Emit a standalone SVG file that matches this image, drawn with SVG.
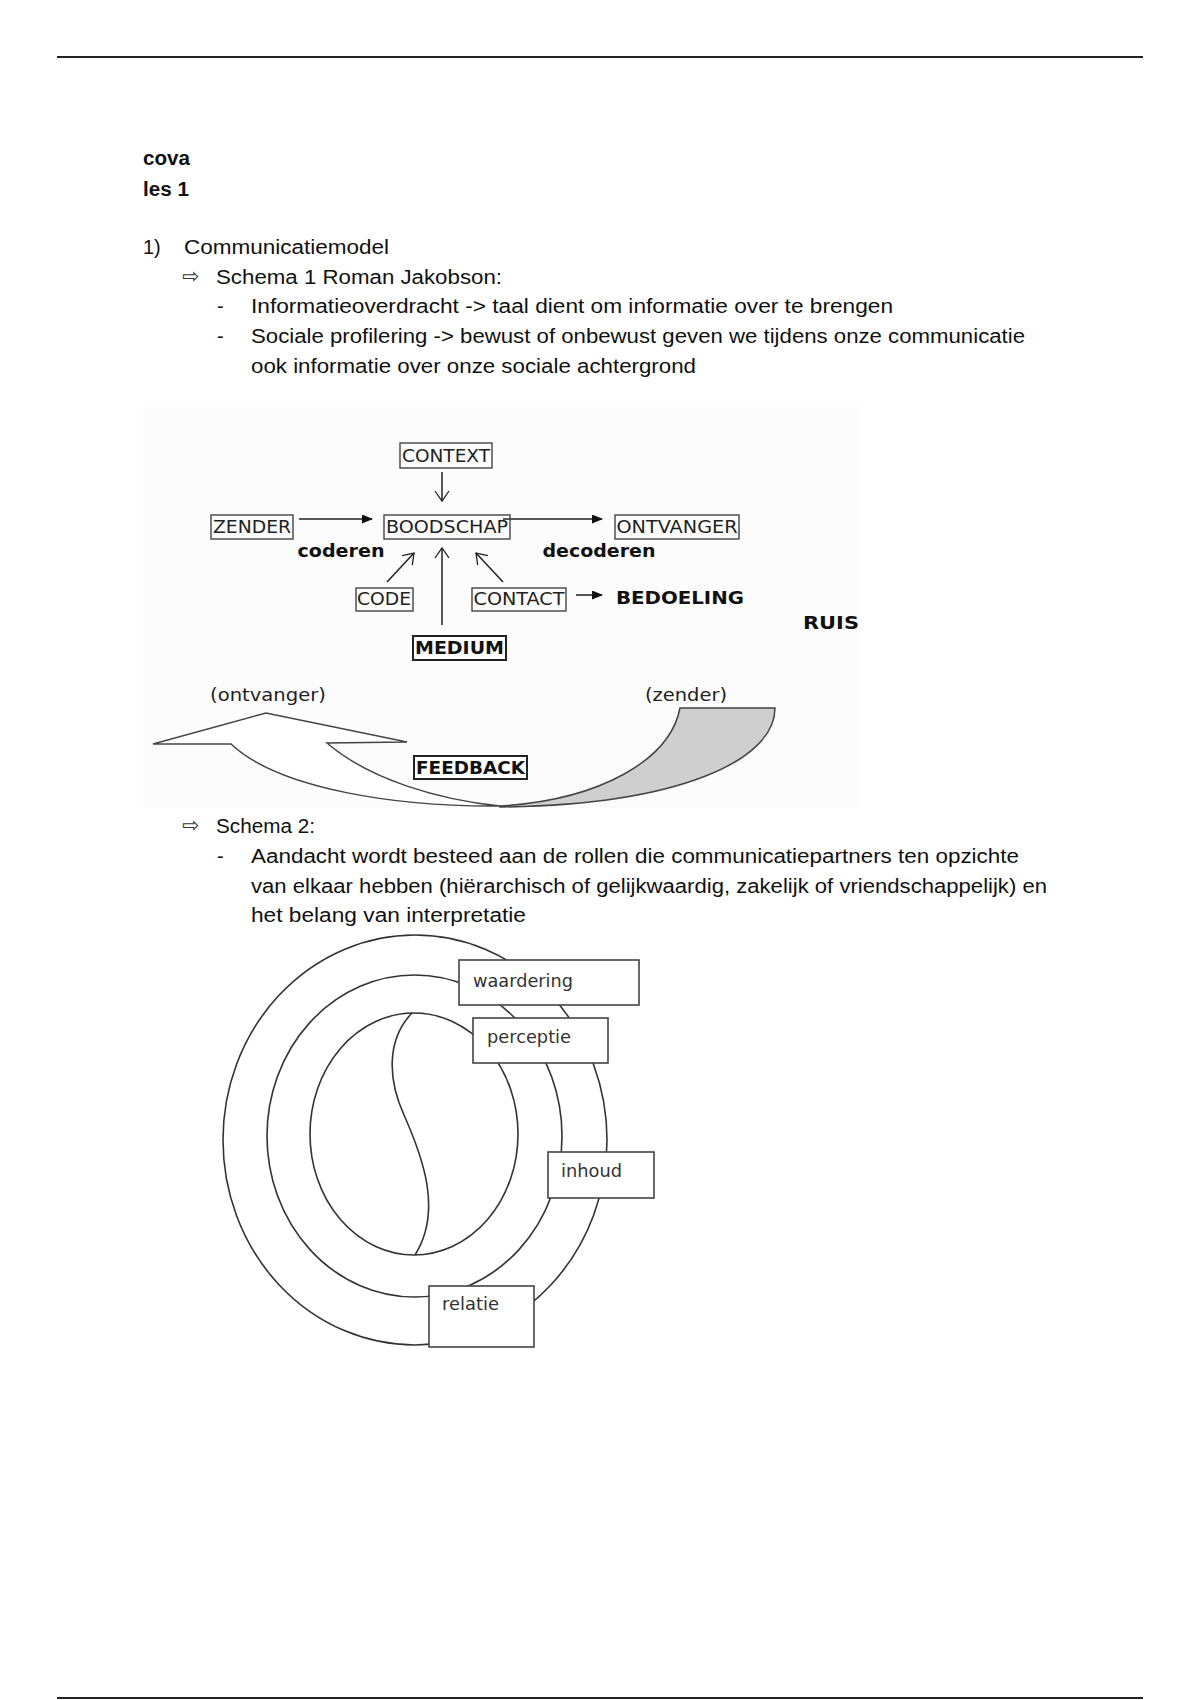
<svg xmlns="http://www.w3.org/2000/svg" width="1200" height="1700" viewBox="0 0 1200 1700">
<defs>
<marker id="fill" markerUnits="userSpaceOnUse" markerWidth="11" markerHeight="9" refX="10" refY="4.5" orient="auto"><path d="M0,0 L11,4.5 L0,9 z" fill="#111"/></marker>
<marker id="open" markerUnits="userSpaceOnUse" markerWidth="14" markerHeight="16" refX="11" refY="8" orient="auto"><path d="M1,1 L11,8 L1,15" fill="none" stroke="#222" stroke-width="1.3"/></marker>
<style>
.doc{font-family:"Liberation Sans",Arial,sans-serif;font-size:20px;fill:#111}
.b{font-weight:bold}
.sym{font-family:"DejaVu Sans",sans-serif;font-size:20px;fill:#333}
.box{fill:none;stroke:#444;stroke-width:1.4}
.bt{font-family:"DejaVu Sans",sans-serif;font-size:17px;fill:#222;text-anchor:middle}
.bb{font-family:"DejaVu Sans",sans-serif;font-size:17px;font-weight:bold;fill:#111;text-anchor:middle}
.ln{stroke:#222;stroke-width:1.5;fill:none}
.circ{fill:none;stroke:#333;stroke-width:1.6}
.lb{fill:#fff;stroke:#444;stroke-width:1.6}
.lt{font-family:"DejaVu Sans",sans-serif;font-size:17px;fill:#333}
</style>
</defs>
<rect width="1200" height="1700" fill="#fff"/>
<line x1="57" y1="57" x2="1143" y2="57" stroke="#222" stroke-width="2"/>
<line x1="57" y1="1698" x2="1143" y2="1698" stroke="#222" stroke-width="2"/>

<g id="text">
<text class="doc b" x="143" y="165" textLength="47" lengthAdjust="spacingAndGlyphs">cova</text>
<text class="doc b" x="143" y="196" textLength="46" lengthAdjust="spacingAndGlyphs">les 1</text>
<text class="doc" x="143" y="254">1)</text>
<text class="doc" x="184" y="254" textLength="205" lengthAdjust="spacingAndGlyphs">Communicatiemodel</text>
<text class="sym" x="182" y="283" textLength="17" lengthAdjust="spacingAndGlyphs">⇨</text>
<text class="doc" x="216" y="284" textLength="286" lengthAdjust="spacingAndGlyphs">Schema 1 Roman Jakobson:</text>
<text class="doc" x="217" y="313">-</text>
<text class="doc" x="251" y="313" textLength="642" lengthAdjust="spacingAndGlyphs">Informatieoverdracht -&gt; taal dient om informatie over te brengen</text>
<text class="doc" x="217" y="343">-</text>
<text class="doc" x="251" y="343" textLength="774" lengthAdjust="spacingAndGlyphs">Sociale profilering -&gt; bewust of onbewust geven we tijdens onze communicatie</text>
<text class="doc" x="251" y="373" textLength="445" lengthAdjust="spacingAndGlyphs">ook informatie over onze sociale achtergrond</text>
<text class="sym" x="182" y="832" textLength="17" lengthAdjust="spacingAndGlyphs">⇨</text>
<text class="doc" x="216" y="833" textLength="99" lengthAdjust="spacingAndGlyphs">Schema 2:</text>
<text class="doc" x="217" y="863">-</text>
<text class="doc" x="251" y="863" textLength="768" lengthAdjust="spacingAndGlyphs">Aandacht wordt besteed aan de rollen die communicatiepartners ten opzichte</text>
<text class="doc" x="251" y="893" textLength="796" lengthAdjust="spacingAndGlyphs">van elkaar hebben (hiërarchisch of gelijkwaardig, zakelijk of vriendschappelijk) en</text>
<text class="doc" x="251" y="922" textLength="275" lengthAdjust="spacingAndGlyphs">het belang van interpretatie</text>
</g>

<rect x="143" y="406" width="719" height="402" fill="#fcfcfc"/>

<g id="connectors">
<line class="ln" x1="442" y1="472" x2="442" y2="501" marker-end="url(#open)"/>
<line class="ln" x1="299" y1="519" x2="372" y2="519" marker-end="url(#fill)"/>
<line class="ln" x1="503" y1="519" x2="602" y2="519" marker-end="url(#fill)"/>
<line class="ln" x1="387" y1="582" x2="414" y2="553" marker-end="url(#open)"/>
<line class="ln" x1="442" y1="625" x2="442" y2="548" marker-end="url(#open)"/>
<line class="ln" x1="503" y1="582" x2="476" y2="553" marker-end="url(#open)"/>
<line class="ln" x1="576" y1="595" x2="602" y2="595" marker-end="url(#fill)"/>
</g>

<g id="context"><rect class="box" x="400" y="443" width="92" height="25"/><text class="bt" x="446" y="462" textLength="88" lengthAdjust="spacingAndGlyphs">CONTEXT</text></g>
<g id="zender"><rect class="box" x="211" y="515" width="82" height="24"/><text class="bt" x="252" y="533" textLength="78" lengthAdjust="spacingAndGlyphs">ZENDER</text></g>
<g id="boodschap"><rect class="box" x="384" y="515" width="126" height="24"/><text class="bt" x="447" y="533" textLength="122" lengthAdjust="spacingAndGlyphs">BOODSCHAP</text></g>
<g id="ontvanger"><rect class="box" x="615" y="515" width="124" height="24"/><text class="bt" x="677" y="533" textLength="121" lengthAdjust="spacingAndGlyphs">ONTVANGER</text></g>
<g id="coderen"><text class="bb" x="341" y="557" textLength="87" lengthAdjust="spacingAndGlyphs">coderen</text></g>
<g id="decoderen"><text class="bb" x="599" y="557" textLength="113" lengthAdjust="spacingAndGlyphs">decoderen</text></g>
<g id="code"><rect class="box" x="356" y="588" width="57" height="23"/><text class="bt" x="384" y="605" textLength="54" lengthAdjust="spacingAndGlyphs">CODE</text></g>
<g id="contact"><rect class="box" x="472" y="588" width="94" height="23"/><text class="bt" x="519" y="605" textLength="91" lengthAdjust="spacingAndGlyphs">CONTACT</text></g>
<g id="bedoeling"><text class="bb" x="680" y="604" textLength="128" lengthAdjust="spacingAndGlyphs">BEDOELING</text></g>
<g id="ruis"><text class="bb" x="831" y="629" textLength="56" lengthAdjust="spacingAndGlyphs">RUIS</text></g>
<g id="medium"><rect x="413" y="636" width="93" height="24" fill="none" stroke="#222" stroke-width="2"/><text class="bb" x="459.5" y="654" textLength="89" lengthAdjust="spacingAndGlyphs">MEDIUM</text></g>

<g id="feedback-arrow">
<path d="M153,744 L266,713 L407,742 L327,743 C370,780 440,800 500,806 C400,807 280,790 231,744 Z" fill="#fff" stroke="#444" stroke-width="1.5"/>
<path d="M500,806 C600,800 670,760 680,708 L775,708 C775,760 680,805 500,807 Z" fill="#cfcfcf" stroke="#444" stroke-width="1.5"/>
</g>
<g id="ontvanger-label"><text class="bt" x="268" y="701" textLength="116" lengthAdjust="spacingAndGlyphs" fill="#333">(ontvanger)</text></g>
<g id="zender-label"><text class="bt" x="686" y="701" textLength="82" lengthAdjust="spacingAndGlyphs">(zender)</text></g>
<g id="feedback"><rect x="414" y="756" width="113" height="23" fill="#fff" stroke="#222" stroke-width="2"/><text class="bb" x="470.5" y="774" textLength="109" lengthAdjust="spacingAndGlyphs">FEEDBACK</text></g>

<g id="schema2">
<ellipse class="circ" cx="415" cy="1140" rx="192" ry="205"/>
<ellipse class="circ" cx="414.5" cy="1136" rx="147.5" ry="161"/>
<ellipse class="circ" cx="414" cy="1134" rx="104" ry="121"/>
<path class="circ" d="M412,1013 C386,1040 388,1080 404,1115 C424,1160 442,1212 415,1255"/>
</g>
<g id="waardering"><rect class="lb" x="459" y="960" width="180" height="45"/><text class="lt" x="473" y="987" textLength="100" lengthAdjust="spacingAndGlyphs">waardering</text></g>
<g id="perceptie"><rect class="lb" x="473" y="1018" width="135" height="45"/><text class="lt" x="487" y="1043" textLength="84" lengthAdjust="spacingAndGlyphs">perceptie</text></g>
<g id="inhoud"><rect class="lb" x="548" y="1152" width="106" height="46"/><text class="lt" x="561" y="1177" textLength="61" lengthAdjust="spacingAndGlyphs">inhoud</text></g>
<g id="relatie"><rect class="lb" x="429" y="1286" width="105" height="61"/><text class="lt" x="442" y="1310" textLength="57" lengthAdjust="spacingAndGlyphs">relatie</text></g>
</svg>
